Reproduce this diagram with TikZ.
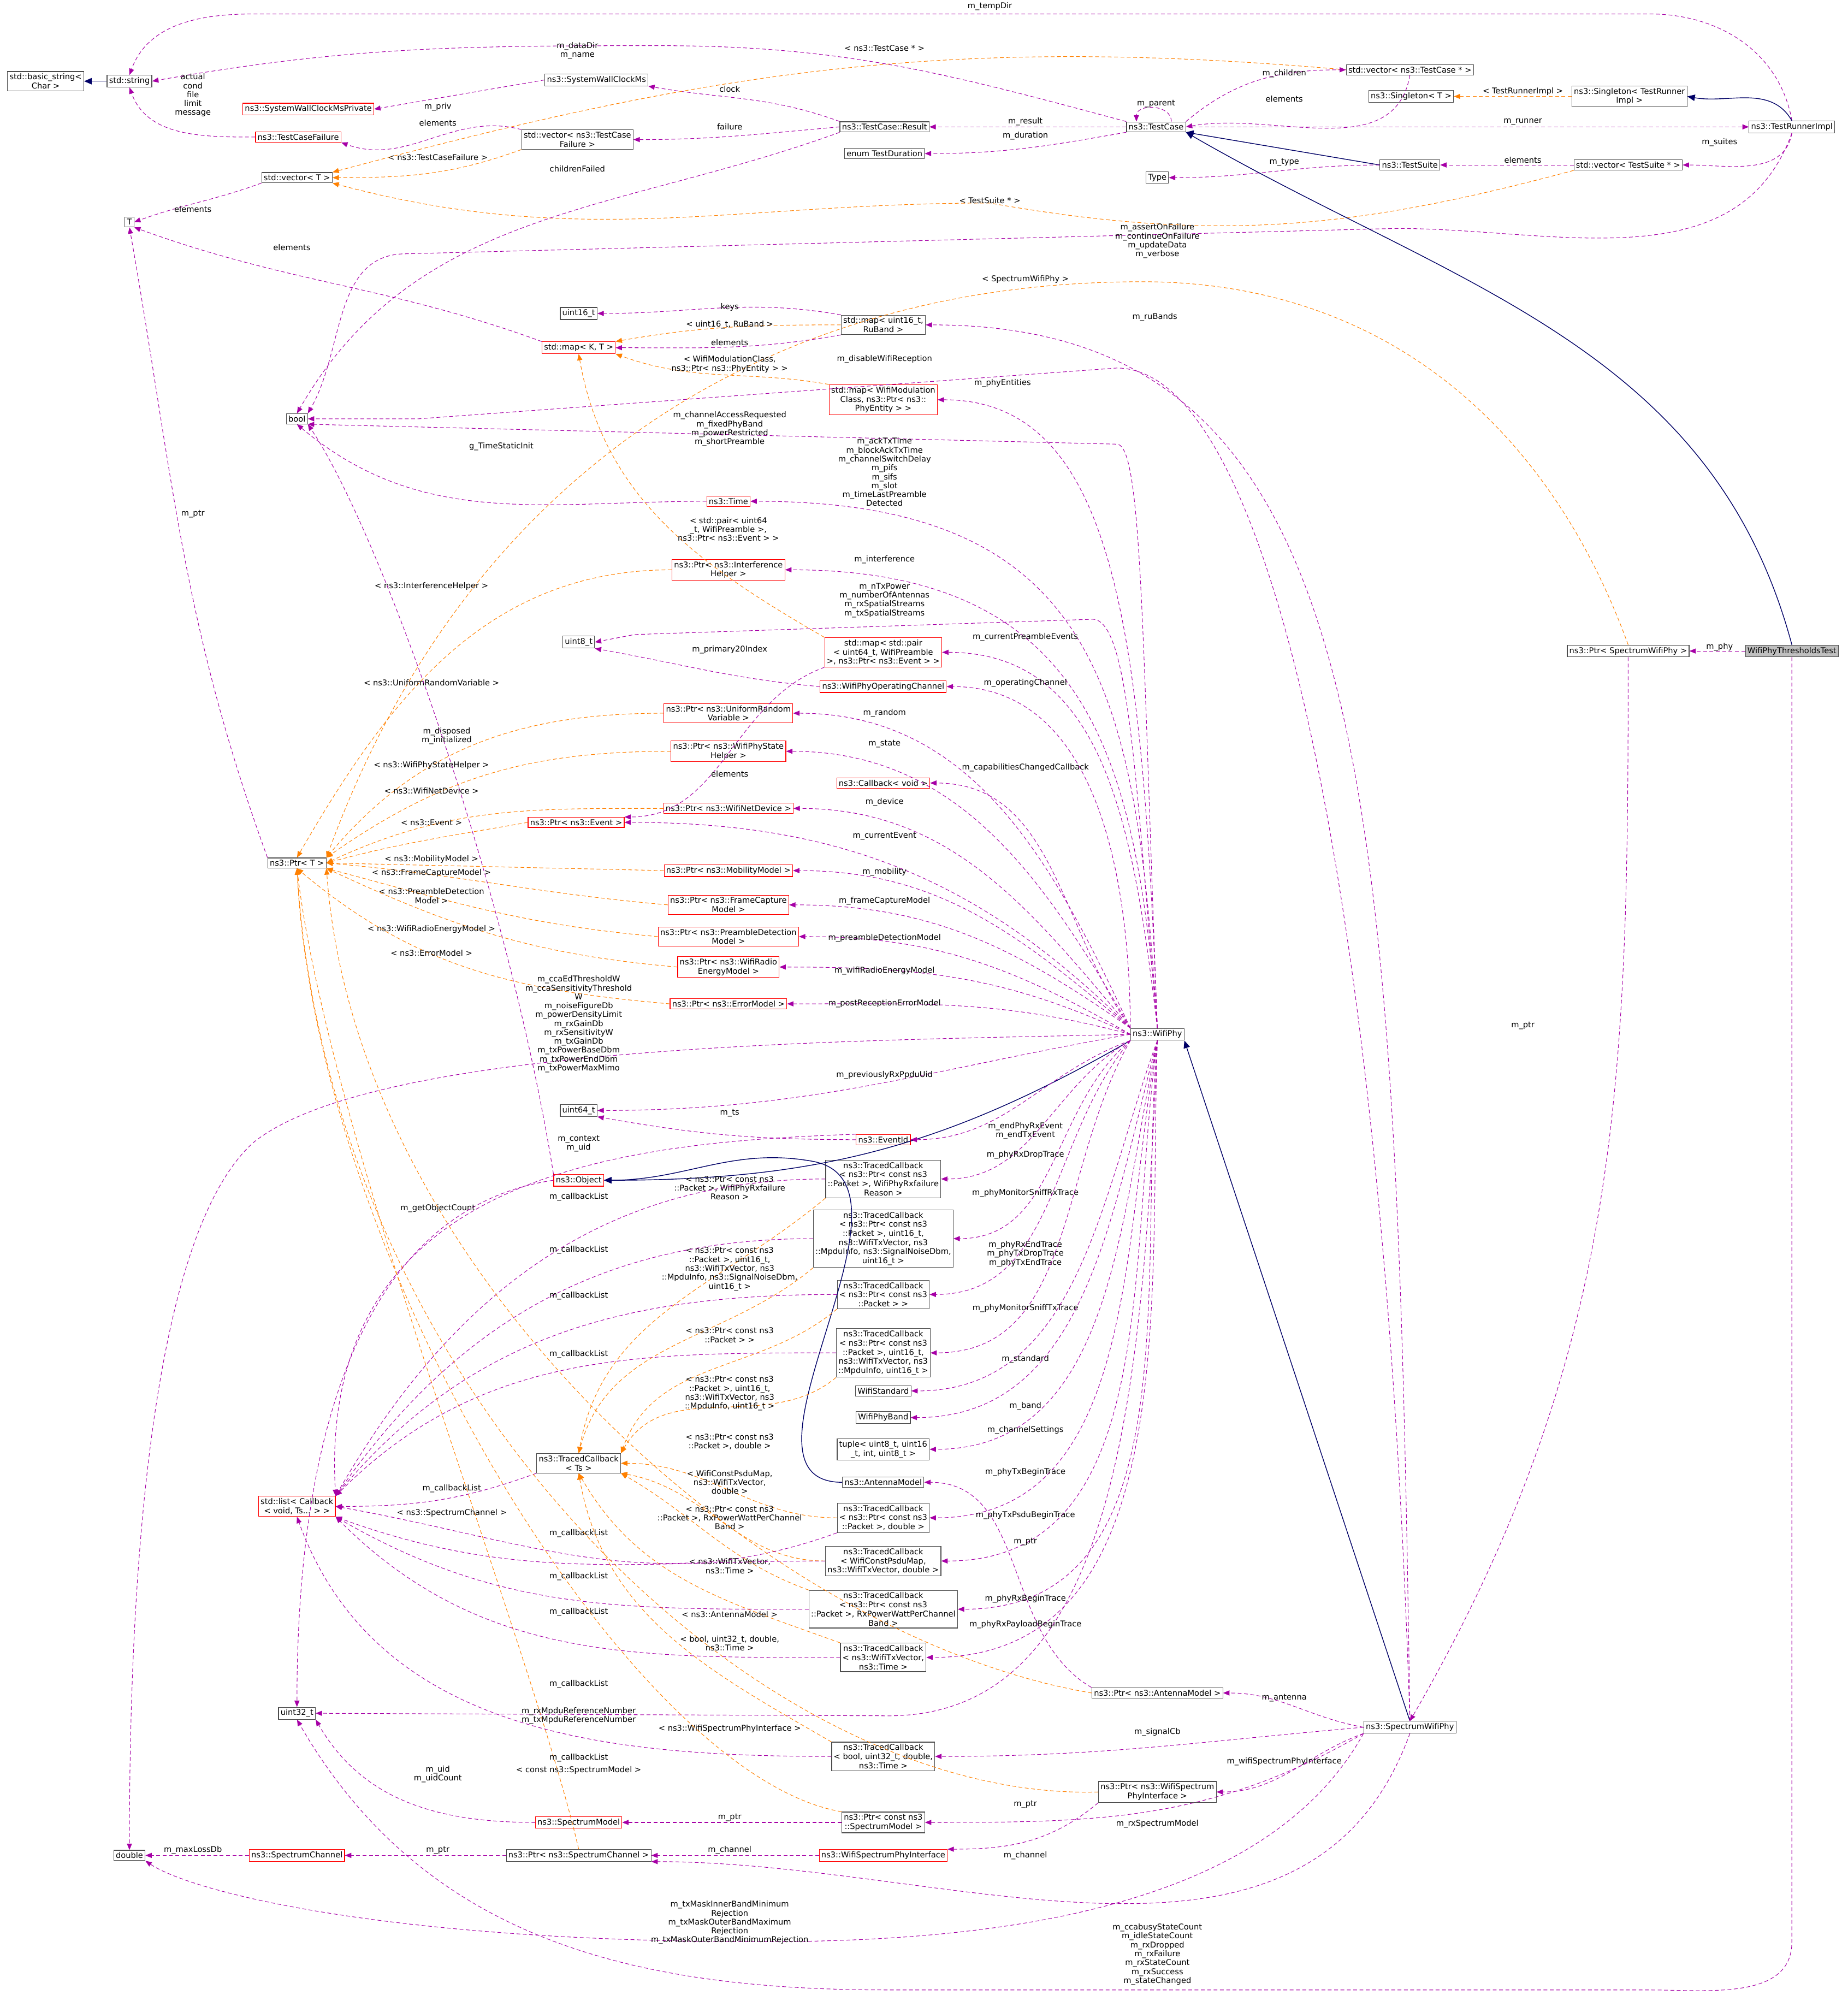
\documentclass[tikz,border=0pt]{standalone}
\usepackage{fontspec}
\setmainfont{DejaVu Sans}
\usetikzlibrary{arrows.meta}
\begin{document}
\begin{tikzpicture}[x=0.5pt,y=-0.5pt,
 box/.style={draw=black!70,fill=white,font=\fontsize{3.15}{3.6}\selectfont,align=center,inner sep=0.8pt,line width=0.25pt},
 rbox/.style={box,draw=red},
 gbox/.style={box,fill=black!25},
 use/.style={draw=violet!70!magenta,dashed,dash pattern=on 1.5pt off 1pt,-{Triangle[length=2.5pt,width=2pt]},line width=0.22pt},
 tmpl/.style={draw=orange,dashed,dash pattern=on 1.5pt off 1pt,-{Triangle[length=2.5pt,width=2pt]},line width=0.22pt},
 inh/.style={draw=blue!40!black,-{Triangle[length=3pt,width=2.5pt]},line width=0.3pt},
 lbl/.style={font=\fontsize{3.15}{3.5}\selectfont,align=center,inner sep=0.25pt}]
\useasboundingbox (0,0) rectangle (1456,1572);
% ---------- nodes
\node[box] (bstr) at (36,64) {std::basic\_string\textless{}\\Char \textgreater};
\node[box] (str) at (102,64) {std::string};
\node[rbox] (swcp) at (243,86) {ns3::SystemWallClockMsPrivate};
\node[box] (swc) at (470,63) {ns3::SystemWallClockMs};
\node[rbox] (tcf) at (235,108) {ns3::TestCaseFailure};
\node[box] (vtcf) at (455,110) {std::vector\textless{} ns3::TestCase\\Failure \textgreater};
\node[box] (vT) at (234,140) {std::vector\textless{} T \textgreater};
\node[box] (T) at (102,175) {T};
\node[box] (tcr) at (697,100) {ns3::TestCase::Result};
\node[box] (tdur) at (697,121) {enum TestDuration};
\node[box] (tc) at (911,100) {ns3::TestCase};
\node[box] (vtc) at (1111,55) {std::vector\textless{} ns3::TestCase * \textgreater};
\node[box] (sgT) at (1112,76) {ns3::Singleton\textless{} T \textgreater};
\node[box] (sgR) at (1284,76) {ns3::Singleton\textless{} TestRunner\\Impl \textgreater};
\node[box] (tri) at (1412,100) {ns3::TestRunnerImpl};
\node[box] (typ) at (912,140) {Type};
\node[box] (ts) at (1111,130) {ns3::TestSuite};
\node[box] (vts) at (1283,130) {std::vector\textless{} TestSuite * \textgreater};
\node[box] (u16) at (456,247) {uint16\_t};
\node[box] (mrb) at (696,256) {std::map\textless{} uint16\_t,\\RuBand \textgreater};
\node[rbox] (mKT) at (456,274) {std::map\textless{} K, T \textgreater};
\node[rbox] (mwm) at (696,315) {std::map\textless{} WifiModulation\\Class, ns3::Ptr\textless{} ns3::\\PhyEntity \textgreater{} \textgreater};
\node[box] (bool) at (234,330) {bool};
\node[rbox] (time) at (574,395) {ns3::Time};
\node[rbox] (pih) at (574,449) {ns3::Ptr\textless{} ns3::Interference\\Helper \textgreater};
\node[box] (u8) at (456,506) {uint8\_t};
\node[rbox] (mpe) at (696,514) {std::map\textless{} std::pair\\\textless{} uint64\_t, WifiPreamble\\\textgreater, ns3::Ptr\textless{} ns3::Event \textgreater{} \textgreater};
\node[rbox] (woc) at (696,541) {ns3::WifiPhyOperatingChannel};
\node[rbox] (pur) at (574,562) {ns3::Ptr\textless{} ns3::UniformRandom\\Variable \textgreater};
\node[rbox] (psh) at (574,592) {ns3::Ptr\textless{} ns3::WifiPhyState\\Helper \textgreater};
\node[rbox] (cbv) at (696,617) {ns3::Callback\textless{} void \textgreater};
\node[rbox] (pnd) at (574,637) {ns3::Ptr\textless{} ns3::WifiNetDevice \textgreater};
\node[rbox] (pev) at (454,648) {ns3::Ptr\textless{} ns3::Event \textgreater};
\node[box] (pT) at (234,680) {ns3::Ptr\textless{} T \textgreater};
\node[rbox] (pmm) at (574,686) {ns3::Ptr\textless{} ns3::MobilityModel \textgreater};
\node[rbox] (pfc) at (574,713) {ns3::Ptr\textless{} ns3::FrameCapture\\Model \textgreater};
\node[rbox] (ppd) at (574,738) {ns3::Ptr\textless{} ns3::PreambleDetection\\Model \textgreater};
\node[rbox] (pre) at (574,762) {ns3::Ptr\textless{} ns3::WifiRadio\\EnergyModel \textgreater};
\node[rbox] (pem) at (574,791) {ns3::Ptr\textless{} ns3::ErrorModel \textgreater};
\node[box] (wp) at (912,815) {ns3::WifiPhy};
\node[box] (u64) at (456,875) {uint64\_t};
\node[rbox] (eid) at (696,898) {ns3::EventId};
\node[rbox] (obj) at (456,930) {ns3::Object};
\node[box] (tc1) at (696,929) {ns3::TracedCallback\\\textless{} ns3::Ptr\textless{} const ns3\\::Packet \textgreater, WifiPhyRxfailure\\Reason \textgreater};
\node[box] (tc2) at (696,976) {ns3::TracedCallback\\\textless{} ns3::Ptr\textless{} const ns3\\::Packet \textgreater, uint16\_t,\\ns3::WifiTxVector, ns3\\::MpduInfo, ns3::SignalNoiseDbm,\\uint16\_t \textgreater};
\node[box] (tc3) at (696,1020) {ns3::TracedCallback\\\textless{} ns3::Ptr\textless{} const ns3\\::Packet \textgreater{} \textgreater};
\node[box] (tc4) at (696,1066) {ns3::TracedCallback\\\textless{} ns3::Ptr\textless{} const ns3\\::Packet \textgreater, uint16\_t,\\ns3::WifiTxVector, ns3\\::MpduInfo, uint16\_t \textgreater};
\node[box] (wstd) at (696,1096) {WifiStandard};
\node[box] (wband) at (696,1117) {WifiPhyBand};
\node[box] (tup) at (696,1142) {tuple\textless{} uint8\_t, uint16\\\_t, int, uint8\_t \textgreater};
\node[box] (tcts) at (456,1153) {ns3::TracedCallback\\\textless{} Ts \textgreater};
\node[rbox] (lst) at (234,1187) {std::list\textless{} Callback\\\textless{} void, Ts... \textgreater{} \textgreater};
\node[box] (ant) at (696,1168) {ns3::AntennaModel};
\node[box] (tc5) at (696,1196) {ns3::TracedCallback\\\textless{} ns3::Ptr\textless{} const ns3\\::Packet \textgreater, double \textgreater};
\node[box] (tc6) at (696,1230) {ns3::TracedCallback\\\textless{} WifiConstPsduMap,\\ns3::WifiTxVector, double \textgreater};
\node[box] (tc7) at (696,1268) {ns3::TracedCallback\\\textless{} ns3::Ptr\textless{} const ns3\\::Packet \textgreater, RxPowerWattPerChannel\\Band \textgreater};
\node[box] (tc8) at (696,1306) {ns3::TracedCallback\\\textless{} ns3::WifiTxVector,\\ns3::Time \textgreater};
\node[box] (pam) at (912,1334) {ns3::Ptr\textless{} ns3::AntennaModel \textgreater};
\node[box] (u32) at (234,1350) {uint32\_t};
\node[box] (swp) at (1111,1361) {ns3::SpectrumWifiPhy};
\node[box] (tc9) at (696,1384) {ns3::TracedCallback\\\textless{} bool, uint32\_t, double,\\ns3::Time \textgreater};
\node[box] (pwsi) at (912,1412) {ns3::Ptr\textless{} ns3::WifiSpectrum\\PhyInterface \textgreater};
\node[rbox] (sm) at (456,1436) {ns3::SpectrumModel};
\node[box] (psm) at (696,1436) {ns3::Ptr\textless{} const ns3\\::SpectrumModel \textgreater};
\node[box] (dbl) at (102,1462) {double};
\node[rbox] (sch) at (234,1462) {ns3::SpectrumChannel};
\node[box] (psc) at (456,1462) {ns3::Ptr\textless{} ns3::SpectrumChannel \textgreater};
\node[rbox] (wsi) at (696,1462) {ns3::WifiSpectrumPhyInterface};
\node[box] (pswp) at (1283,513) {ns3::Ptr\textless{} SpectrumWifiPhy \textgreater};
\node[gbox] (wpt) at (1412,513) {WifiPhyThresholdsTest};
% ---------- top area
\draw[inh] (str) -- (bstr);
\draw[use] (tri.north) to[out=100,in=0] (1300,11) -- (200,11) to[out=180,in=70] (str.north);
\node[lbl] at (780,5) {m\_tempDir};
\draw[use] (tc.north west) to[out=165,in=0] (520,36) to[out=180,in=10] (str.east);
\node[lbl] at (455,40) {m\_dataDir\\m\_name};
\draw[use] (tcf.west) to[out=180,in=-70] (str.south);
\node[lbl] at (152,75) {actual\\cond\\file\\limit\\message};
\draw[use] (swc.west) -- (swcp.east); \node[lbl] at (345,84) {m\_priv};
\draw[use] (tcr.north west) to[out=160,in=-10] (swc.south east); \node[lbl] at (575,70) {clock};
\draw[use] (tcr.west) to[out=185,in=0] (vtcf.east); \node[lbl] at (575,100) {failure};
\draw[use] (vtcf.north west) to[out=165,in=-20] (tcf.south east); \node[lbl] at (345,97) {elements};
\draw[tmpl] (vtcf.south west) to[out=200,in=0] (vT.east); \node[lbl] at (345,124) {\textless{} ns3::TestCaseFailure \textgreater};
\draw[tmpl] (vtc.west) to[out=175,in=15] (vT.north east); \node[lbl] at (697,38) {\textless{} ns3::TestCase * \textgreater};
\draw[tmpl] (vts.south west) to[out=195,in=-10] (780,160) to[out=180,in=-15] (vT.south east); \node[lbl] at (780,158) {\textless{} TestSuite * \textgreater};
\draw[use] (vT.south west) to[out=200,in=20] (T.east); \node[lbl] at (152,165) {elements};
\draw[use] (tc.west) -- (tcr.east); \node[lbl] at (808,96) {m\_result};
\draw[use] (tc.south west) to[out=190,in=0] (tdur.east); \node[lbl] at (808,107) {m\_duration};
\draw[use] ([xshift=6pt]tc.north) .. controls +(0,-14) and +(0,-14) .. ([xshift=4pt]tc.north west); \node[lbl] at (911,82) {m\_parent};
\draw[use] (tc.north east) to[out=40,in=180] (vtc.west); \node[lbl] at (1012,58) {m\_children};
\draw[use] (vtc.south) to[out=-100,in=10] (tc.east); \node[lbl] at (1012,78) {elements};
\draw[tmpl] (sgR.west) -- (sgT.east); \node[lbl] at (1200,72) {\textless{} TestRunnerImpl \textgreater};
\draw[inh] (tri.north) to[out=120,in=-10] (sgR.east);
\draw[use] (tc.east) -- (tri.west); \node[lbl] at (1200,96) {m\_runner};
\draw[inh] (ts.west) -- (tc.south east);
\draw[use] (ts.west) to[out=180,in=0] (typ.east); \node[lbl] at (1012,128) {m\_type};
\draw[use] (vts.west) -- (ts.east); \node[lbl] at (1200,126) {elements};
\draw[use] (tri.south) to[out=-100,in=0] (vts.east); \node[lbl] at (1355,112) {m\_suites};
\draw[use] (tri.south) to[out=-110,in=0] (1100,180) -- (320,200) to[out=180,in=60] (bool.north east);
\node[lbl] at (912,190) {m\_assertOnFailure\\m\_continueOnFailure\\m\_updateData\\m\_verbose};
\draw[use] (tcr.south west) to[out=200,in=60] (bool.north);
\node[lbl] at (455,133) {childrenFailed};
\draw[inh] (wpt.north) to[out=105,in=-30] (tc.south east);
\draw[use] (wpt.west) -- (pswp.east); \node[lbl] at (1355,510) {m\_phy};
\draw[tmpl] (pswp.north) to[out=110,in=0] (900,222) to[out=180,in=70] (pT.north east);
\node[lbl] at (808,220) {\textless{} SpectrumWifiPhy \textgreater};
\draw[use] (pswp.south) to[out=-90,in=60] (swp.north); \node[lbl] at (1200,808) {m\_ptr};
\draw[inh] (swp.north) -- (wp.south east);
\draw[inh] (wp.south west) to[out=210,in=0] (obj.east);
\draw[inh] (ant.west) to[out=180,in=-10] (640,915) to[out=170,in=0] (obj.east);
\draw[use] (wpt.south) -- (1412,1530) to[out=-90,in=0] (1300,1568) -- (700,1568) to[out=180,in=-60] (u32.south);
\node[lbl] at (912,1540) {m\_ccabusyStateCount\\m\_idleStateCount\\m\_rxDropped\\m\_rxFailure\\m\_rxStateCount\\m\_rxSuccess\\m\_stateChanged};
% ---------- maps
\draw[use] (mrb.north west) to[out=170,in=0] (u16.east); \node[lbl] at (575,242) {keys};
\draw[tmpl] (mrb.west) to[out=180,in=10] (mKT.north east); \node[lbl] at (575,256) {\textless{} uint16\_t, RuBand \textgreater};
\draw[use] (mrb.south west) to[out=190,in=0] (mKT.east); \node[lbl] at (575,270) {elements};
\draw[use] (mKT.north west) to[out=160,in=-20] (T.south east); \node[lbl] at (230,195) {elements};
\draw[tmpl] (mwm.north west) to[out=170,in=-20] (mKT.south east); \node[lbl] at (575,287) {\textless{} WifiModulationClass,\\ns3::Ptr\textless{} ns3::PhyEntity \textgreater{} \textgreater};
\draw[use] (pT.north west) to[out=110,in=-80] (T.south); \node[lbl] at (152,405) {m\_ptr};
\draw[use] (swp.north) .. controls (1100,600) and (1080,256) .. (mrb.east); \node[lbl] at (910,250) {m\_ruBands};
\draw[use] (swp.north) .. controls (1090,700) and (1000,290) .. (880,290) -- (330,330) -- (bool.east); \node[lbl] at (697,283) {m\_disableWifiReception};
\draw[use] (wp.north) .. controls (900,500) and (880,315) .. (mwm.east); \node[lbl] at (790,302) {m\_phyEntities};
\draw[use] (wp.north) .. controls (900,500) and (900,350) .. (880,350) -- (bool.south east);
\node[lbl] at (575,338) {m\_channelAccessRequested\\m\_fixedPhyBand\\m\_powerRestricted\\m\_shortPreamble};
\draw[use] (time.west) to[out=180,in=-40] (bool.south); \node[lbl] at (395,352) {g\_TimeStaticInit};
\draw[use] (wp.north) .. controls (895,550) and (870,395) .. (time.east);
\node[lbl] at (697,372) {m\_ackTxTime\\m\_blockAckTxTime\\m\_channelSwitchDelay\\m\_pifs\\m\_sifs\\m\_slot\\m\_timeLastPreamble\\Detected};
\draw[tmpl] (pih.west) to[out=180,in=60] (pT.north); \node[lbl] at (340,462) {\textless{} ns3::InterferenceHelper \textgreater};
\draw[tmpl] (mpe.north west) to[out=150,in=-80] (mKT.south); \node[lbl] at (574,417) {\textless{} std::pair\textless{} uint64\\\_t, WifiPreamble \textgreater,\\ns3::Ptr\textless{} ns3::Event \textgreater{} \textgreater};
\draw[use] (wp.north) .. controls (895,600) and (860,449) .. (pih.east); \node[lbl] at (697,441) {m\_interference};
\draw[use] (wp.north) .. controls (895,620) and (890,485) .. (860,488) -- (500,500) -- (u8.east); \node[lbl] at (697,473) {m\_nTxPower\\m\_numberOfAntennas\\m\_rxSpatialStreams\\m\_txSpatialStreams};
\draw[use] (wp.north) .. controls (893,650) and (870,514) .. (mpe.east); \node[lbl] at (808,502) {m\_currentPreambleEvents};
\draw[use] (woc.west) to[out=175,in=-10] (u8.south east); \node[lbl] at (575,512) {m\_primary20Index};
\draw[use] (wp.north west) .. controls (890,680) and (860,541) .. (woc.east); \node[lbl] at (808,538) {m\_operatingChannel};
\draw[tmpl] (pur.west) to[out=180,in=50] (pT.north east); \node[lbl] at (340,538) {\textless{} ns3::UniformRandomVariable \textgreater};
\draw[use] (obj.north west) .. controls (400,700) and (300,420) .. (bool.south east); \node[lbl] at (352,580) {m\_disposed\\m\_initialized};
\draw[use] (wp.north west) to[out=115,in=0] (pur.east); \node[lbl] at (697,562) {m\_random};
\draw[use] (wp.north west) to[out=120,in=0] (psh.east); \node[lbl] at (697,586) {m\_state};
\draw[tmpl] (psh.west) to[out=180,in=35] (pT.north east); \node[lbl] at (340,603) {\textless{} ns3::WifiPhyStateHelper \textgreater};
\draw[use] (mpe.south west) to[out=200,in=0] (pev.north east); \node[lbl] at (575,610) {elements};
\draw[use] (wp.north west) to[out=125,in=0] (cbv.east); \node[lbl] at (808,605) {m\_capabilitiesChangedCallback};
\draw[tmpl] (pnd.west) to[out=180,in=25] (pT.east); \node[lbl] at (340,623) {\textless{} ns3::WifiNetDevice \textgreater};
\draw[use] (wp.north west) to[out=130,in=0] (pnd.east); \node[lbl] at (697,632) {m\_device};
\draw[tmpl] (pev.west) to[out=190,in=15] (pT.east); \node[lbl] at (340,648) {\textless{} ns3::Event \textgreater};
\draw[use] (wp.north west) to[out=135,in=0] (pev.east); \node[lbl] at (697,659) {m\_currentEvent};
\draw[tmpl] (pmm.west) -- (pT.east); \node[lbl] at (340,677) {\textless{} ns3::MobilityModel \textgreater};
\draw[use] (wp.north west) to[out=140,in=0] (pmm.east); \node[lbl] at (697,687) {m\_mobility};
\draw[tmpl] (pfc.west) to[out=175,in=-5] (pT.east); \node[lbl] at (340,688) {\textless{} ns3::FrameCaptureModel \textgreater};
\draw[use] (wp.north west) to[out=145,in=0] (pfc.east); \node[lbl] at (697,710) {m\_frameCaptureModel};
\draw[tmpl] (ppd.west) to[out=175,in=-15] (pT.south east); \node[lbl] at (340,706) {\textless{} ns3::PreambleDetection\\Model \textgreater};
\draw[use] (wp.west) to[out=150,in=0] (ppd.east); \node[lbl] at (697,739) {m\_preambleDetectionModel};
\draw[tmpl] (pre.west) to[out=175,in=-25] (pT.south east); \node[lbl] at (340,732) {\textless{} ns3::WifiRadioEnergyModel \textgreater};
\draw[use] (wp.west) to[out=155,in=0] (pre.east); \node[lbl] at (697,765) {m\_wifiRadioEnergyModel};
\draw[tmpl] (pem.west) to[out=175,in=-40] (pT.south); \node[lbl] at (340,751) {\textless{} ns3::ErrorModel \textgreater};
\draw[use] (wp.west) to[out=165,in=0] (pem.east); \node[lbl] at (697,791) {m\_postReceptionErrorModel};
\draw[use] (wp.west) .. controls (700,820) and (300,820) .. (200,900) .. controls (110,980) and (102,1300) .. (dbl.north);
\node[lbl] at (456,807) {m\_ccaEdThresholdW\\m\_ccaSensitivityThreshold\\W\\m\_noiseFigureDb\\m\_powerDensityLimit\\m\_rxGainDb\\m\_rxSensitivityW\\m\_txGainDb\\m\_txPowerBaseDbm\\m\_txPowerEndDbm\\m\_txPowerMaxMimo};
\draw[use] (wp.west) to[out=190,in=0] (u64.east); \node[lbl] at (697,847) {m\_previouslyRxPpduUid};
\draw[use] (eid.west) to[out=180,in=-10] (u64.south east); \node[lbl] at (575,877) {m\_ts};
\draw[use] (wp.south west) to[out=200,in=0] (eid.east); \node[lbl] at (808,891) {m\_endPhyRxEvent\\m\_endTxEvent};
\draw[use] (obj.west) .. controls (300,950) and (234,1100) .. (u32.north); \node[lbl] at (345,952) {m\_getObjectCount};
\draw[use] (eid.north west) .. controls (500,900) and (250,920) .. (lst.north east); \node[lbl] at (456,901) {m\_context\\m\_uid};
% ---------- traced callbacks
\draw[use] (wp.south west) to[out=210,in=0] (tc1.east); \node[lbl] at (808,910) {m\_phyRxDropTrace};
\draw[tmpl] (tc1.south west) to[out=220,in=80] (tcts.north); \node[lbl] at (575,936) {\textless{} ns3::Ptr\textless{} const ns3\\::Packet \textgreater, WifiPhyRxfailure\\Reason \textgreater};
\draw[use] (tc1.west) to[out=180,in=60] (lst.north east); \node[lbl] at (456,943) {m\_callbackList};
\draw[use] (wp.south west) to[out=220,in=0] (tc2.east); \node[lbl] at (808,940) {m\_phyMonitorSniffRxTrace};
\draw[tmpl] (tc2.south west) to[out=220,in=75] (tcts.north); \node[lbl] at (575,1000) {\textless{} ns3::Ptr\textless{} const ns3\\::Packet \textgreater, uint16\_t,\\ns3::WifiTxVector, ns3\\::MpduInfo, ns3::SignalNoiseDbm,\\uint16\_t \textgreater};
\draw[use] (tc2.west) to[out=180,in=55] (lst.north east); \node[lbl] at (456,985) {m\_callbackList};
\draw[use] (wp.south west) to[out=230,in=0] (tc3.east); \node[lbl] at (808,988) {m\_phyRxEndTrace\\m\_phyTxDropTrace\\m\_phyTxEndTrace};
\draw[use] (tc3.west) to[out=180,in=50] (lst.north east); \node[lbl] at (456,1021) {m\_callbackList};
\draw[tmpl] (tc3.south west) to[out=220,in=70] (tcts.north east); \node[lbl] at (575,1052) {\textless{} ns3::Ptr\textless{} const ns3\\::Packet \textgreater{} \textgreater};
\draw[use] (wp.south west) to[out=240,in=0] (tc4.east); \node[lbl] at (808,1031) {m\_phyMonitorSniffTxTrace};
\draw[use] (tc4.west) to[out=180,in=45] (lst.north east); \node[lbl] at (456,1067) {m\_callbackList};
\draw[tmpl] (tc4.south west) to[out=220,in=60] (tcts.north east); \node[lbl] at (575,1098) {\textless{} ns3::Ptr\textless{} const ns3\\::Packet \textgreater, uint16\_t,\\ns3::WifiTxVector, ns3\\::MpduInfo, uint16\_t \textgreater};
\draw[use] (wp.south) to[out=250,in=0] (wstd.east); \node[lbl] at (808,1071) {m\_standard};
\draw[use] (wp.south) to[out=255,in=0] (wband.east); \node[lbl] at (808,1108) {m\_band};
\draw[use] (wp.south) to[out=258,in=0] (tup.east); \node[lbl] at (808,1127) {m\_channelSettings};
\draw[tmpl] (tc5.west) to[out=180,in=0] (tcts.east); \node[lbl] at (575,1136) {\textless{} ns3::Ptr\textless{} const ns3\\::Packet \textgreater, double \textgreater};
\draw[use] (tcts.south west) to[out=200,in=0] (lst.east); \node[lbl] at (356,1173) {m\_callbackList};
\draw[use] (wp.south) to[out=260,in=0] (tc5.east); \node[lbl] at (808,1160) {m\_phyTxBeginTrace};
\draw[tmpl] (tc6.west) to[out=180,in=-10] (tcts.south east); \node[lbl] at (575,1168) {\textless{} WifiConstPsduMap,\\ns3::WifiTxVector,\\double \textgreater};
\draw[tmpl] (psc.north) .. controls (420,1300) and (260,900) .. (pT.south); \node[lbl] at (356,1192) {\textless{} ns3::SpectrumChannel \textgreater};
\draw[use] (wp.south) to[out=262,in=0] (tc6.east); \node[lbl] at (808,1194) {m\_phyTxPsduBeginTrace};
\draw[tmpl] (tc7.north west) to[out=160,in=-30] (tcts.south east); \node[lbl] at (575,1196) {\textless{} ns3::Ptr\textless{} const ns3\\::Packet \textgreater, RxPowerWattPerChannel\\Band \textgreater};
\draw[use] (tc5.south west) to[out=200,in=-10] (lst.east); \node[lbl] at (456,1208) {m\_callbackList};
\draw[use] (pam.north west) to[out=150,in=0] (ant.east); \node[lbl] at (808,1215) {m\_ptr};
\draw[tmpl] (tc8.north west) to[out=160,in=-60] (tcts.south); \node[lbl] at (575,1234) {\textless{} ns3::WifiTxVector,\\ns3::Time \textgreater};
\draw[use] (tc6.west) to[out=180,in=-20] (lst.south east); \node[lbl] at (456,1242) {m\_callbackList};
\draw[use] (tc7.west) to[out=180,in=-30] (lst.south east); \node[lbl] at (456,1270) {m\_callbackList};
\draw[tmpl] (pam.west) .. controls (600,1290) and (280,1000) .. (pT.south east); \node[lbl] at (575,1272) {\textless{} ns3::AntennaModel \textgreater};
\draw[use] (wp.south) to[out=265,in=0] (tc7.east); \node[lbl] at (808,1260) {m\_phyRxBeginTrace};
\draw[tmpl] (tc9.north west) to[out=150,in=-80] (tcts.south); \node[lbl] at (575,1295) {\textless{} bool, uint32\_t, double,\\ns3::Time \textgreater};
\draw[use] (wp.south) to[out=268,in=0] (tc8.east); \node[lbl] at (808,1280) {m\_phyRxPayloadBeginTrace};
\draw[use] (tc8.west) to[out=180,in=-45] (lst.south east); \node[lbl] at (456,1327) {m\_callbackList};
\draw[use] (swp.west) to[out=170,in=0] (pam.east); \node[lbl] at (1012,1338) {m\_antenna};
\draw[use] (wp.south) .. controls (900,1100) and (880,1352) .. (700,1352) -- (u32.east); \node[lbl] at (456,1352) {m\_rxMpduReferenceNumber\\m\_txMpduReferenceNumber};
\draw[tmpl] (pwsi.west) .. controls (600,1420) and (260,1100) .. (pT.south); \node[lbl] at (575,1362) {\textless{} ns3::WifiSpectrumPhyInterface \textgreater};
\draw[use] (swp.west) to[out=185,in=0] (tc9.east); \node[lbl] at (912,1365) {m\_signalCb};
\draw[use] (tc9.west) to[out=180,in=-70] (lst.south); \node[lbl] at (456,1385) {m\_callbackList};
\draw[tmpl] (psm.north west) .. controls (500,1400) and (250,1000) .. (pT.south); \node[lbl] at (456,1395) {\textless{} const ns3::SpectrumModel \textgreater};
\draw[use] (swp.south west) to[out=200,in=0] (pwsi.east); \node[lbl] at (1012,1388) {m\_wifiSpectrumPhyInterface};
\draw[use] (sm.west) to[out=180,in=-60] (u32.south east); \node[lbl] at (345,1398) {m\_uid\\m\_uidCount};
\draw[use] (pwsi.south west) to[out=220,in=0] (wsi.north east); \node[lbl] at (808,1422) {m\_ptr};
\draw[use] (psm.west) -- (sm.east); \node[lbl] at (575,1432) {m\_ptr};
\draw[use] (swp.south west) to[out=210,in=0] (psm.east); \node[lbl] at (912,1437) {m\_rxSpectrumModel};
\draw[use] (sch.west) -- (dbl.east); \node[lbl] at (152,1458) {m\_maxLossDb};
\draw[use] (psc.west) -- (sch.east); \node[lbl] at (345,1458) {m\_ptr};
\draw[use] (wsi.west) -- (psc.east); \node[lbl] at (575,1458) {m\_channel};
\draw[use] (swp.south) to[out=-110,in=0] (psc.south east); \node[lbl] at (808,1462) {m\_channel};
\draw[use] (swp.south west) .. controls (1000,1500) and (800,1530) .. (600,1530) .. controls (300,1530) and (150,1490) .. (dbl.south east);
\node[lbl] at (575,1515) {m\_txMaskInnerBandMinimum\\Rejection\\m\_txMaskOuterBandMaximum\\Rejection\\m\_txMaskOuterBandMinimumRejection};
\end{tikzpicture}
\end{document}
